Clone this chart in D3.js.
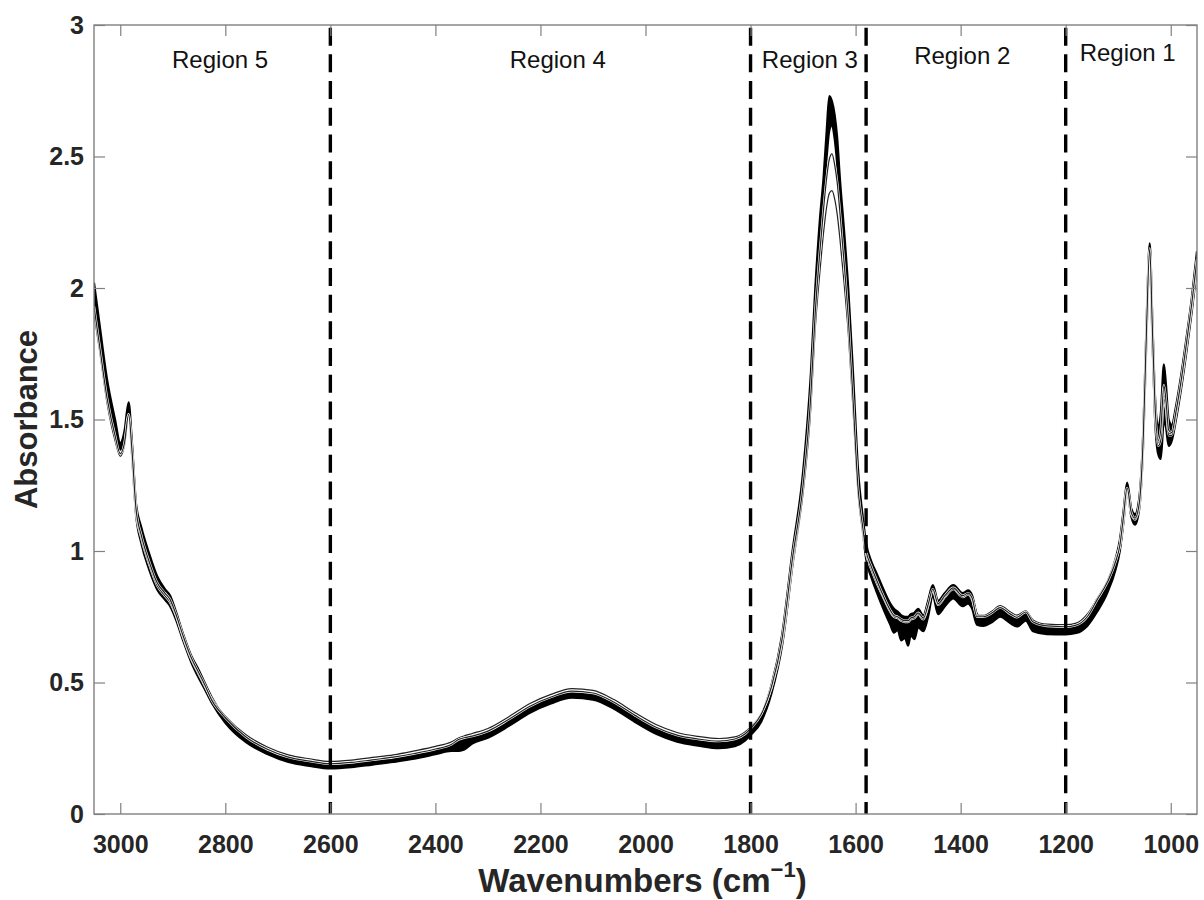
<!DOCTYPE html>
<html>
<head>
<meta charset="utf-8">
<script src="https://cdn.jsdelivr.net/npm/d3@7"></script>
<style>
  body { margin: 0; background: #fff; }
  svg { font-family: "Liberation Sans", Arial, sans-serif; }
</style>
</head>
<body>
<svg id="chart" width="1204" height="900"></svg>
<script>
// wavenumber grid (cm^-1), descending
const waves = [3050,3040,3025,3010,3000,2992,2984,2978,2970,2960,2945,2930,2915,2905,2895,2880,2865,2850,2840,2825,
  2800,2760,2720,2680,2640,2600,2560,2520,2480,2440,2400,2370,2355,2345,2330,2300,2260,2220,2180,2140,
  2100,2060,2020,1980,1940,1900,1860,1830,1810,1800,1780,1760,1740,1720,1700,1685,1677,1668,1661,1655,
  1650,1645,1640,1635,1630,1622,1614,1605,1595,1587,1580,1570,1560,1545,1534,1527,1520,1513,1506,1500,
  1495,1488,1481,1471,1462,1453,1443,1430,1414,1396,1386,1378,1369,1357,1340,1325,1305,1293,1276,1262,
  1236,1200,1180,1159,1140,1121,1105,1097,1090,1083,1075,1068,1060,1052,1046,1040,1035,1030,1024,1019,
  1013,1009,1004,998,990,980,970,960,950];

// lower edge of the dense bundle of spectra
const bandLow = [1.95,1.81,1.60,1.46,1.385,1.42,1.535,1.38,1.14,1.03,0.93,0.855,0.815,0.79,0.745,0.658,0.578,0.515,0.478,0.42,
  0.347,0.272,0.228,0.198,0.183,0.173,0.178,0.188,0.198,0.21,0.227,0.24,0.24,0.245,0.268,0.29,0.335,0.385,0.42,0.442,
  0.435,0.40,0.35,0.305,0.275,0.26,0.25,0.258,0.28,0.30,0.35,0.46,0.64,0.95,1.24,1.60,1.92,2.18,2.34,2.50,
  2.60,2.62,2.57,2.47,2.33,2.14,1.92,1.60,1.24,1.09,0.97,0.90,0.845,0.77,0.72,0.69,0.70,0.66,0.67,0.64,
  0.68,0.665,0.71,0.695,0.75,0.83,0.76,0.79,0.82,0.79,0.80,0.78,0.72,0.715,0.73,0.75,0.725,0.713,0.735,0.695,
  0.684,0.683,0.688,0.715,0.77,0.84,0.93,1.0,1.11,1.23,1.13,1.10,1.16,1.43,1.83,2.13,1.82,1.51,1.37,1.35,
  1.50,1.47,1.40,1.42,1.50,1.62,1.76,1.91,2.08];

// upper edge of the dense bundle of spectra
const bandHigh = [2.02,1.87,1.65,1.50,1.41,1.455,1.565,1.42,1.18,1.09,0.99,0.905,0.855,0.83,0.775,0.682,0.602,0.545,0.502,0.44,
  0.363,0.288,0.242,0.212,0.197,0.187,0.192,0.202,0.212,0.226,0.243,0.26,0.28,0.285,0.292,0.31,0.355,0.405,0.44,0.462,
  0.455,0.42,0.37,0.325,0.295,0.28,0.272,0.28,0.30,0.32,0.375,0.49,0.68,1.0,1.30,1.68,1.99,2.26,2.42,2.60,
  2.73,2.71,2.66,2.57,2.42,2.22,2.00,1.68,1.30,1.14,1.03,0.96,0.915,0.845,0.80,0.78,0.77,0.755,0.75,0.75,
  0.76,0.765,0.78,0.755,0.81,0.87,0.81,0.84,0.87,0.84,0.85,0.83,0.76,0.745,0.76,0.78,0.755,0.743,0.765,0.725,
  0.71,0.707,0.712,0.745,0.81,0.88,0.97,1.04,1.15,1.26,1.16,1.14,1.20,1.47,1.87,2.17,1.88,1.59,1.47,1.52,
  1.71,1.63,1.50,1.48,1.55,1.67,1.81,1.96,2.14];

// two outlying spectra (lower amide peak, offset baseline)
const outerA = [1.90,1.77,1.56,1.42,1.36,1.40,1.51,1.38,1.15,1.05,0.95,0.87,0.83,0.805,0.76,0.67,0.59,0.53,0.49,0.435,
  0.372,0.30,0.255,0.225,0.21,0.20,0.205,0.215,0.225,0.24,0.257,0.274,0.29,0.297,0.306,0.325,0.37,0.42,0.455,0.477,
  0.47,0.435,0.385,0.34,0.31,0.295,0.287,0.293,0.313,0.33,0.38,0.48,0.655,0.96,1.22,1.55,1.84,2.06,2.21,2.31,
  2.36,2.37,2.34,2.28,2.19,2.02,1.83,1.54,1.21,1.08,0.99,0.93,0.88,0.815,0.77,0.75,0.745,0.735,0.73,0.73,
  0.74,0.745,0.76,0.74,0.79,0.85,0.795,0.825,0.855,0.825,0.835,0.815,0.755,0.755,0.772,0.792,0.768,0.756,0.772,0.738,
  0.722,0.72,0.726,0.76,0.82,0.885,0.965,1.02,1.12,1.23,1.14,1.12,1.17,1.44,1.84,2.14,1.84,1.54,1.40,1.42,
  1.58,1.54,1.44,1.44,1.52,1.64,1.78,1.93,2.10];

const outerB = [1.93,1.79,1.58,1.44,1.37,1.41,1.52,1.39,1.16,1.06,0.96,0.88,0.84,0.815,0.765,0.675,0.595,0.535,0.495,0.43,
  0.366,0.292,0.246,0.216,0.201,0.191,0.196,0.206,0.216,0.23,0.247,0.264,0.284,0.29,0.296,0.315,0.36,0.41,0.445,0.467,
  0.46,0.425,0.375,0.33,0.30,0.285,0.277,0.285,0.305,0.325,0.378,0.485,0.665,0.975,1.25,1.60,1.90,2.14,2.30,2.42,
  2.49,2.51,2.47,2.40,2.29,2.10,1.89,1.58,1.23,1.10,1.0,0.94,0.89,0.82,0.775,0.755,0.75,0.74,0.735,0.735,
  0.745,0.75,0.765,0.745,0.795,0.855,0.80,0.83,0.86,0.83,0.84,0.82,0.75,0.75,0.765,0.785,0.76,0.748,0.768,0.73,
  0.715,0.712,0.718,0.75,0.815,0.88,0.96,1.02,1.13,1.24,1.145,1.125,1.18,1.45,1.85,2.15,1.85,1.56,1.42,1.46,
  1.63,1.57,1.46,1.45,1.53,1.65,1.79,1.94,2.11];

const regionBounds = [2600, 1800, 1580, 1200];
const regionNames = ["Region 5", "Region 4", "Region 3", "Region 2", "Region 1"];
const regionLabelAt = [2810, 2167, 1687, 1397, 1082];
const regionLabelY = [2.837, 2.837, 2.837, 2.852, 2.863];

const xTicks = [3000, 2800, 2600, 2400, 2200, 2000, 1800, 1600, 1400, 1200, 1000];
const yTicks = [0, 0.5, 1, 1.5, 2, 2.5, 3];

const svg = d3.select("#chart");
const margin = {left: 94, right: 7, top: 25, bottom: 86};
const width = 1204, height = 900;
const x = d3.scaleLinear().domain([3050, 950]).range([margin.left, width - margin.right]);
const y = d3.scaleLinear().domain([0, 3]).range([height - margin.bottom, margin.top]);

svg.append("defs").append("clipPath").attr("id", "plot-clip")
  .append("rect")
  .attr("x", x.range()[0]).attr("y", y.range()[1])
  .attr("width", x.range()[1] - x.range()[0])
  .attr("height", y.range()[0] - y.range()[1]);

const plot = svg.append("g").attr("clip-path", "url(#plot-clip)");

const pts = waves.map((w, i) => ({w, lo: bandLow[i], hi: bandHigh[i], a: outerA[i], b: outerB[i]}));

// dense bundle
plot.append("path")
  .datum(pts)
  .attr("d", d3.area().x(d => x(d.w)).y0(d => y(d.lo)).y1(d => y(d.hi)).curve(d3.curveMonotoneX))
  .attr("fill", "#000");

["lo", "hi"].forEach(k => {
  plot.append("path")
    .datum(pts)
    .attr("d", d3.line().x(d => x(d.w)).y(d => y(d[k])).curve(d3.curveMonotoneX))
    .attr("fill", "none").attr("stroke", "#000").attr("stroke-width", 2.2);
});

// outlying spectra: narrow white gap then thin dark line
["a", "b"].forEach(k => {
  const line = d3.line().x(d => x(d.w)).y(d => y(d[k])).curve(d3.curveMonotoneX);
  plot.append("path").datum(pts).attr("d", line)
    .attr("fill", "none").attr("stroke", "#fff").attr("stroke-width", 2.4);
  plot.append("path").datum(pts).attr("d", line)
    .attr("fill", "none").attr("stroke", "#222").attr("stroke-width", 1.2);
});

// region dividers
svg.append("g").selectAll("line")
  .data(regionBounds)
  .join("line")
  .attr("x1", d => x(d)).attr("x2", d => x(d))
  .attr("y1", y(2.99)).attr("y2", y(0))
  .attr("stroke", "#000").attr("stroke-width", 3.4)
  .attr("stroke-dasharray", "18,8.7");

svg.append("g").selectAll("text")
  .data(regionNames)
  .join("text")
  .attr("x", (d, i) => x(regionLabelAt[i]))
  .attr("y", (d, i) => y(regionLabelY[i]))
  .attr("text-anchor", "middle")
  .attr("font-size", 24)
  .attr("fill", "#111")
  .text(d => d);

// axes
const axisColor = "#808080";
const tickLen = 11;
const styleAxis = g => {
  g.select(".domain").remove();
  g.selectAll(".tick line").attr("stroke", axisColor).attr("stroke-width", 1.2);
  g.selectAll(".tick text").attr("fill", "#262626").attr("font-size", 25)
    .attr("font-weight", "bold").attr("font-family", "'Liberation Sans', Arial, sans-serif");
};

svg.append("g")
  .attr("transform", `translate(0,${y(0)})`)
  .call(d3.axisBottom(x).tickValues(xTicks).tickSize(-tickLen).tickPadding(21).tickFormat(d3.format("d")))
  .call(styleAxis);

svg.append("g")
  .attr("transform", `translate(0,${y(3)})`)
  .call(d3.axisTop(x).tickValues(xTicks).tickSize(-tickLen).tickFormat(""))
  .call(styleAxis);

svg.append("g")
  .attr("transform", `translate(${x(3050)},0)`)
  .call(d3.axisLeft(y).tickValues(yTicks).tickSize(-tickLen).tickPadding(10).tickFormat(d => String(d)))
  .call(styleAxis);

svg.append("g")
  .attr("transform", `translate(${x(950)},0)`)
  .call(d3.axisRight(y).tickValues(yTicks).tickSize(-tickLen).tickFormat(""))
  .call(styleAxis);

// frame
svg.append("rect")
  .attr("x", x(3050)).attr("y", y(3))
  .attr("width", x(950) - x(3050)).attr("height", y(0) - y(3))
  .attr("fill", "none").attr("stroke", axisColor).attr("stroke-width", 1.4);

// axis titles
const xTitle = svg.append("text")
  .attr("x", (x(3050) + x(950)) / 2 - 3).attr("y", 892)
  .attr("text-anchor", "middle").attr("font-size", 33).attr("font-weight", "bold").attr("fill", "#262626");
xTitle.append("tspan").text("Wavenumbers (cm");
xTitle.append("tspan").attr("dy", -15).attr("font-size", 22).text("\u22121");
xTitle.append("tspan").attr("dy", 15).text(")");

svg.append("text")
  .attr("transform", `translate(37,${(y(0) + y(3)) / 2}) rotate(-90)`)
  .attr("text-anchor", "middle").attr("font-size", 31).attr("font-weight", "bold").attr("fill", "#262626")
  .text("Absorbance");
</script>
</body>
</html>
